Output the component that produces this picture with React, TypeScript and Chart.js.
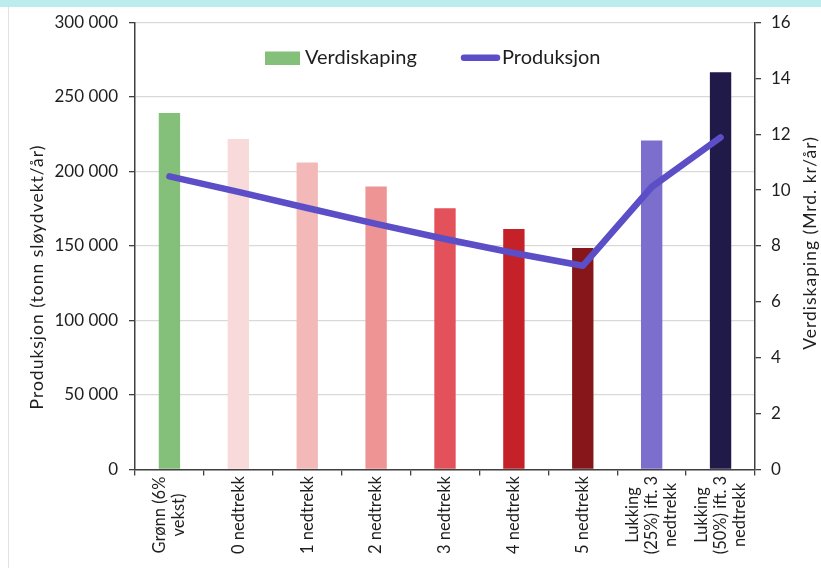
import React, { useEffect, useRef } from 'react';
import { Chart, registerables } from 'chart.js';

Chart.register(...registerables);

const categories: (string | string[])[] = [
  ['Grønn (6%', 'vekst)'],
  '0 nedtrekk',
  '1 nedtrekk',
  '2 nedtrekk',
  '3 nedtrekk',
  '4 nedtrekk',
  '5 nedtrekk',
  ['Lukking', '(25%) ift. 3', 'nedtrekk'],
  ['Lukking', '(50%) ift. 3', 'nedtrekk'],
];

// Verdiskaping (Mrd. kr/år) – bars, right axis
const verdiskaping = [12.76, 11.83, 10.99, 10.13, 9.35, 8.61, 7.93, 11.78, 14.22];
// Produksjon (tonn sløydvekt/år) – line, left axis
const produksjon = [196700, 186300, 175500, 164800, 154700, 145300, 136700, 189600, 222900];

const barColors = ['#84c07a', '#f8dada', '#f3b9b9', '#ee9494', '#e3525a', '#c42129', '#861619', '#7b6ecd', '#201a48'];
const lineColor = '#5b4ec6';

const leftMax = 300000;
const leftStep = 50000;
const rightMax = 16;
const rightStep = 2;

const legendLabels = ['Verdiskaping', 'Produksjon'];
const leftTitle = 'Produksjon (tonn sløydvekt/år)';
const rightTitle = 'Verdiskaping (Mrd. kr/år)';

const FONT = 'Lato, "Open Sans", sans-serif';
const AXIS_COLOR = '#404040';
const TEXT_COLOR = '#1e1e1e';

const fmt = (v: number) => String(v).replace(/\B(?=(\d{3})+(?!\d))/g, ' ');

const decorPlugin = {
  id: 'decor',
  afterDraw(chart: any) {
    const ctx: CanvasRenderingContext2D = chart.ctx;
    const xs = chart.scales.x;
    ctx.save();
    ctx.fillStyle = TEXT_COLOR;

    // x labels, rotated
    ctx.font = `16.5px ${FONT}`;
    ctx.textAlign = 'center';
    ctx.textBaseline = 'middle';
    categories.forEach((lab, i) => {
      const lines = Array.isArray(lab) ? lab : [lab];
      const cx = xs.getPixelForValue(i);
      const lh = 19;
      lines.forEach((ln, j) => {
        const off = (j - (lines.length - 1) / 2) * lh;
        ctx.save();
        ctx.translate(cx + off, 515);
        ctx.rotate(-Math.PI / 2);
        ctx.fillText(ln, 0, 0);
        ctx.restore();
      });
    });

    // axis titles
    ctx.font = `17.5px ${FONT}`;
    (ctx as any).letterSpacing = '1px';
    ctx.save();
    ctx.translate(37, 277);
    ctx.rotate(-Math.PI / 2);
    ctx.fillText(leftTitle, 0, 0);
    ctx.restore();
    ctx.save();
    ctx.translate(810, 243);
    ctx.rotate(-Math.PI / 2);
    ctx.fillText(rightTitle, 0, 0);
    ctx.restore();
    (ctx as any).letterSpacing = '0px';

    // legend
    ctx.fillStyle = barColors[0];
    ctx.fillRect(265, 51.5, 35, 13.5);
    ctx.strokeStyle = lineColor;
    ctx.lineWidth = 6.5;
    ctx.lineCap = 'round';
    ctx.beginPath();
    ctx.moveTo(464, 57.8);
    ctx.lineTo(497, 57.8);
    ctx.stroke();
    ctx.fillStyle = TEXT_COLOR;
    ctx.font = `20px ${FONT}`;
    ctx.textAlign = 'left';
    ctx.textBaseline = 'alphabetic';
    ctx.fillText(legendLabels[0], 305, 64);
    ctx.fillText(legendLabels[1], 502, 64);
    ctx.restore();
  },
};

export default function App() {
  const ref = useRef<HTMLCanvasElement | null>(null);

  useEffect(() => {
    if (!ref.current) return;
    const chart = new Chart(ref.current, {
      type: 'bar',
      data: {
        labels: categories.map((c) => (Array.isArray(c) ? c.join(' ') : c)),
        datasets: [
          {
            type: 'line',
            label: legendLabels[1],
            data: produksjon,
            yAxisID: 'y',
            borderColor: lineColor,
            backgroundColor: lineColor,
            borderWidth: 6.5,
            borderCapStyle: 'round',
            borderJoinStyle: 'round',
            pointRadius: 0,
            tension: 0,
            order: 0,
          } as any,
          {
            type: 'bar',
            label: legendLabels[0],
            data: verdiskaping,
            yAxisID: 'y1',
            backgroundColor: barColors,
            borderWidth: 0,
            barPercentage: 0.31,
            categoryPercentage: 1,
            order: 1,
          } as any,
        ],
      },
      options: {
        animation: false,
        responsive: false,
        maintainAspectRatio: false,
        layout: { padding: { top: 22.5, left: 0, right: 0, bottom: 0 } },
        plugins: {
          legend: { display: false },
          tooltip: { enabled: false },
        },
        font: { family: FONT } as any,
        scales: {
          x: {
            offset: true,
            ticks: { display: false },
            grid: {
              offset: true,
              drawOnChartArea: false,
              drawTicks: true,
              tickLength: 6,
              color: AXIS_COLOR,
              lineWidth: 1.3,
            },
            border: { display: true, color: AXIS_COLOR, width: 1.5 },
            afterFit: (s: any) => {
              s.height = 98.5;
            },
          },
          y: {
            position: 'left',
            min: 0,
            max: leftMax,
            ticks: {
              stepSize: leftStep,
              padding: 11,
              color: TEXT_COLOR,
              font: { family: FONT, size: 17 },
              callback: (v: any) => fmt(Number(v)),
            },
            grid: {
              color: '#d9d9d9',
              lineWidth: 1.3,
              tickColor: AXIS_COLOR,
              tickLength: 6,
              drawTicks: true,
            },
            border: { display: true, color: AXIS_COLOR, width: 1.5 },
            afterFit: (s: any) => {
              s.width = 135;
            },
          },
          y1: {
            position: 'right',
            min: 0,
            max: rightMax,
            ticks: {
              stepSize: rightStep,
              padding: 10,
              color: TEXT_COLOR,
              font: { family: FONT, size: 17 },
            },
            grid: {
              drawOnChartArea: false,
              tickColor: AXIS_COLOR,
              tickLength: 6,
              lineWidth: 1.3,
            },
            border: { display: true, color: AXIS_COLOR, width: 1.5 },
            afterFit: (s: any) => {
              s.width = 66;
            },
          },
        },
      } as any,
      plugins: [decorPlugin],
    });
    return () => chart.destroy();
  }, []);

  return (
    <div style={{ position: 'absolute', left: 0, top: 0, width: 821, height: 568, background: '#ffffff', overflow: 'hidden' }}>
      <div style={{ position: 'absolute', left: 0, top: 0, width: 821, height: 7, background: '#bcecec' }} />
      <div style={{ position: 'absolute', left: 8, top: 7, width: 1, height: 561, background: '#e2e2e2' }} />
      <canvas ref={ref} width={821} height={568} style={{ position: 'absolute', left: 0, top: 0, width: 821, height: 568 }} />
    </div>
  );
}
